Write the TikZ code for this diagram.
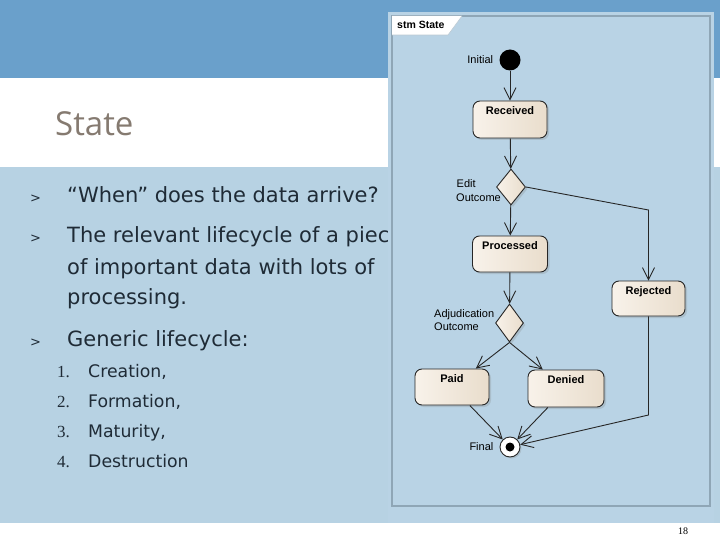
\documentclass[tikz,border=0pt]{standalone}
\usepackage{fontspec}
\setmainfont{DejaVu Sans}
\newfontfamily\titlefont{Open Sans}
\newfontfamily\diafont{Liberation Sans}
\newfontfamily\numfont{Liberation Serif}
\usetikzlibrary{shapes.geometric,arrows.meta,shadows}
\definecolor{topband}{HTML}{6AA0CB}
\definecolor{bodyblue}{HTML}{B7D2E3}
\definecolor{imgbg}{HTML}{B9D3E5}
\definecolor{framegray}{HTML}{8FA6B6}
\definecolor{titlegray}{HTML}{857A70}
\definecolor{textdark}{HTML}{1F2B36}
\definecolor{creamA}{HTML}{F8F2EA}
\definecolor{creamB}{HTML}{E9DDCC}
\definecolor{edgedark}{HTML}{262626}
\tikzset{
  bodytext/.style={anchor=base west, inner sep=0, text=textdark, font=\fontsize{21}{31}\selectfont},
  bulletmark/.style={anchor=base west, inner sep=0, text=textdark, font=\fontsize{13}{15}\selectfont},
  numtext/.style={anchor=base west, inner sep=0, text=textdark, font=\numfont\fontsize{17}{20}\selectfont},
  itemtext/.style={anchor=base west, inner sep=0, text=textdark, font=\fontsize{17.3}{20}\selectfont},
  statebox/.style={rectangle, rounded corners=7pt, draw=edgedark, line width=0.9pt,
     left color=creamA, right color=creamB,
     drop shadow={shadow xshift=2pt, shadow yshift=-2pt, opacity=0.25}},
  decision/.style={diamond, draw=edgedark, line width=0.9pt, inner sep=0,
     left color=creamA, right color=creamB,
     drop shadow={shadow xshift=2pt, shadow yshift=-2pt, opacity=0.25}},
  statename/.style={anchor=north, inner sep=0, yshift=-5.5pt, font=\diafont\bfseries\fontsize{11}{13}\selectfont, text=black},
  dlabel/.style={inner sep=0, font=\diafont\fontsize{11}{14}\selectfont, text=black, align=left},
  flow/.style={draw=edgedark, line width=0.9pt, -{Straight Barb[length=12pt,width=12pt,line width=0.9pt]}},
}
\begin{document}
\begin{tikzpicture}[x=1pt,y=-1pt]
\useasboundingbox (0,0) rectangle (720,540);
% slide background
\fill[white] (0,0) rectangle (720,540);
\fill[topband] (0,0) rectangle (720,78);
\fill[bodyblue] (0,167) rectangle (720,523);
% title
\node[anchor=base west, inner sep=0, text=titlegray, font=\titlefont\fontsize{33}{40}\selectfont] (title) at (55,136) {State};
% bullets
\node[bulletmark] (b1) at (30,203) {>};
\node[bodytext] (t1) at (67,203) {“When” does the data arrive?};
\node[bulletmark] (b2) at (30,243) {>};
\node[bodytext] (t2) at (67,243) {The relevant lifecycle of a piec};
\node[bodytext] (t2b) at (67,274) {of important data with lots of};
\node[bodytext] (t2c) at (67,304) {processing.};
\node[bulletmark] (b3) at (30,346) {>};
\node[bodytext] (t3) at (67,346) {Generic lifecycle:};
\node[numtext] (n1) at (57,377) {1.};
\node[itemtext] (i1) at (88,377) {Creation,};
\node[numtext] (n2) at (57,407) {2.};
\node[itemtext] (i2) at (88,407) {Formation,};
\node[numtext] (n3) at (57,437) {3.};
\node[itemtext] (i3) at (88,437) {Maturity,};
\node[numtext] (n4) at (57,467) {4.};
\node[itemtext] (i4) at (88,467) {Destruction};
% page number
\node[anchor=base, inner sep=0, font=\numfont\fontsize{10}{12}\selectfont] (pg) at (683,534) {18};

% diagram image
\fill[imgbg] (388,12) rectangle (714,523);
\draw[framegray, line width=1.3pt] (392,16) rectangle (710,506);
\fill[white] (392,16) -- (462,16) -- (448,35) -- (392,35) -- cycle;
\draw[framegray!60, line width=0.6pt] (462,16) -- (448,35) -- (392,35);
\node[anchor=base west, inner sep=0, font=\diafont\bfseries\fontsize{10.5}{12}\selectfont] (tab) at (397,29) {stm State};

% nodes
\node[circle, fill=black, inner sep=0, minimum size=21pt,
  label={[dlabel, label distance=6pt]left:Initial}] (init) at (510,60) {};
\node[statebox, minimum width=74pt, minimum height=37pt,
  label={[statename]north:Received}] (rec) at (510,119.5) {};
\node[decision, minimum width=29pt, minimum height=36pt] (edit) at (511,187) {};
\node[dlabel, anchor=base west] (editl) at (456.5,188) {Edit};
\node[dlabel, anchor=base west] (editl2) at (456,201.5) {Outcome};
\node[statebox, minimum width=75pt, minimum height=36pt,
  label={[statename]north:Processed}] (proc) at (510,254) {};
\node[statebox, minimum width=73pt, minimum height=35pt,
  label={[statename]north:Rejected}] (rej) at (648.5,298.5) {};
\node[decision, minimum width=28pt, minimum height=38pt] (adj) at (509.5,323) {};
\node[dlabel, anchor=base west] (adjl) at (434,317) {Adjudication};
\node[dlabel, anchor=base west] (adjl2) at (434,330.5) {Outcome};
\node[statebox, minimum width=74pt, minimum height=36pt,
  label={[statename]north:Paid}] (paid) at (452,387) {};
\node[statebox, minimum width=76pt, minimum height=37pt,
  label={[statename]north:Denied}] (den) at (566,388.5) {};
\node[circle, draw=edgedark, line width=0.9pt, fill=white, inner sep=0, minimum size=20pt,
  drop shadow={shadow xshift=1.5pt, shadow yshift=-1.5pt, opacity=0.25},
  path picture={\fill[black] (path picture bounding box.center) circle (4.5pt);},
  label={[dlabel, label distance=6pt]left:Final}] (fin) at (510,447) {};

\coordinate (c1) at (648.5,210);
\coordinate (c2) at (648.5,415);

% connectors
\draw[flow] (init) -- (rec);
\draw[flow] (rec) -- (edit);
\draw[flow] (edit) -- (proc);
\draw[flow] (edit.east) -- (c1) -- (rej.north);
\draw[flow] (proc) -- (adj);
\draw[flow] (adj.south) -- (paid);
\draw[flow] (adj.south) -- (den);
\draw[flow] (paid) -- (fin);
\draw[flow] (den) -- (fin);
\draw[flow] (rej.south) -- (c2) -- (fin);
\end{tikzpicture}
\end{document}
